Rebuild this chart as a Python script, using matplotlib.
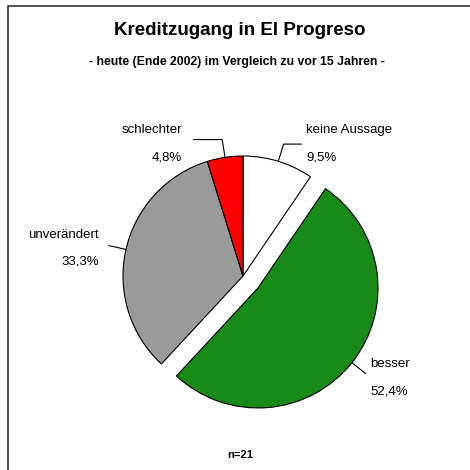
import numpy as np
import matplotlib
matplotlib.use("Agg")
import matplotlib.pyplot as plt
from matplotlib.patches import Rectangle

# ---- data ----
categories = ["keine Aussage", "besser", "unverändert", "schlechter"]
values = [9.5, 52.4, 33.3, 4.8]
value_labels = ["9,5%", "52,4%", "33,3%", "4,8%"]
colors = ["#ffffff", "#178a17", "#9a9a9a", "#ff0000"]
explode = [0, 0.16, 0, 0]
title = "Kreditzugang in El Progreso"
subtitle = "- heute (Ende 2002) im Vergleich zu vor 15 Jahren -"
footnote = "n=21"

W = H = 470
fig = plt.figure(figsize=(4.7, 4.7), dpi=100)
fig.patch.set_facecolor("white")
FONT = "Liberation Sans"

# pie axes spanning the figure; 120 px per data unit, centre at pixel (243, 276)
R = 120.0
cx, cy = 243.0, 276.0
ax = fig.add_axes([0, 0, 1, 1])

wedges, _ = ax.pie(values, startangle=90, counterclock=False, colors=colors,
                   explode=explode, radius=1.0,
                   wedgeprops=dict(edgecolor="black", linewidth=0.8))
ax.set_aspect("auto")
ax.set_xlim(-cx / R, (W - cx) / R)
ax.set_ylim(-(H - cy) / R, cy / R)
ax.axis("off")

def px(x, y):
    return ((x - cx) / R, (cy - y) / R)

# label layout: (category index) -> (anchor x px, baseline y name, baseline y value, ha, horizontal end px or None)
layout = {
    0: (306, 133, 161, "left", 302),
    3: (182, 133, 161, "right", 193),
    2: (99, 238, 265, "right", None),
    1: (370, 367, 394, "left", None),
}

for i, w in enumerate(wedges):
    ang = np.deg2rad((w.theta1 + w.theta2) / 2)
    c0x, c0y = w.center
    p1 = (c0x + np.cos(ang), c0y + np.sin(ang))
    p2 = (c0x + 1.15 * np.cos(ang), c0y + 1.15 * np.sin(ang))
    xs = [p1[0], p2[0]]
    ys = [p1[1], p2[1]]
    lx, by1, by2, ha, hend = layout[i]
    if hend is not None:
        xs.append(px(hend, 0)[0])
        ys.append(p2[1])
    ax.plot(xs, ys, color="black", linewidth=0.8, solid_capstyle="butt")
    tx, ty1 = px(lx, by1)
    _, ty2 = px(lx, by2)
    ax.text(tx, ty1, categories[i], ha=ha, va="baseline", fontsize=9.5,
            family=FONT, color="black")
    ax.text(tx, ty2, value_labels[i], ha=ha, va="baseline", fontsize=9.5,
            family=FONT, color="black")

# titles
fig.text(240 / W, 1 - 35 / H, title, ha="center", va="baseline", fontsize=13.5,
         fontweight="bold", family=FONT)
fig.text(237 / W, 1 - 65 / H, subtitle, ha="center", va="baseline", fontsize=8.8,
         fontweight="bold", family=FONT)
fig.text(240 / W, 1 - 458 / H, footnote, ha="center", va="baseline", fontsize=8,
         fontweight="bold", family=FONT)

# chart frame (left and top edges visible)
frame = Rectangle((8 / W, -0.1), 1.2, 1 - 6 / H + 0.1, transform=fig.transFigure,
                  fill=False, edgecolor="#333333", linewidth=1.2)
fig.patches.append(frame)

fig.savefig("out.png", dpi=100, facecolor="white")
